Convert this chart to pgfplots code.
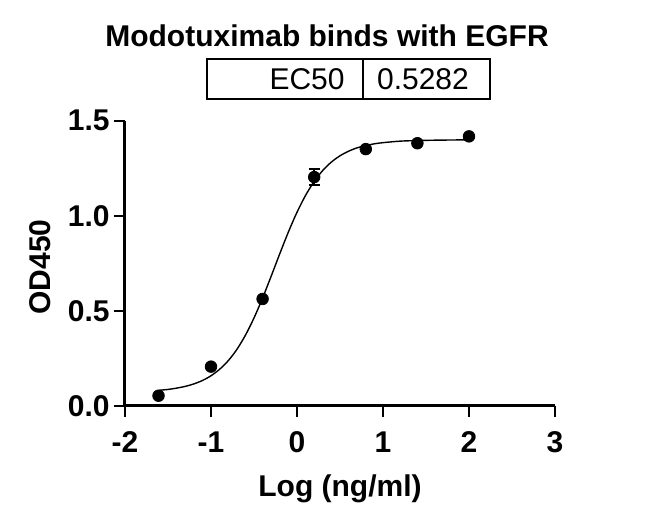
\documentclass[border=0pt]{standalone}
\usepackage{fontspec}
\setmainfont{Liberation Sans}
\usepackage{pgfplots}
\pgfplotsset{compat=1.18}

\newcommand{\chartfont}{\fontsize{15}{18}\selectfont}

\begin{document}
\begin{tikzpicture}
\begin{axis}[%
  scale only axis,
  width=215pt, height=142.6pt,
  xmin=-2, xmax=3, ymin=0, ymax=1.5,
  axis lines=left,
  axis line style={line width=1.5pt, -},
  tick align=outside,
  major tick length=5.5pt,
  tick style={line width=1.25pt, black},
  xtick={-2,-1,0,1,2,3},
  xticklabels={-2,-1,0,1,2,3},
  ytick={0,0.5,1,1.5},
  yticklabels={0.0,0.5,1.0,1.5},
  tick label style={font=\bfseries\chartfont},
  xticklabel style={anchor=base, inner sep=0pt, yshift=-17.7pt},
  yticklabel style={anchor=east, inner sep=0pt, xshift=-2pt},
  clip=false,
]
% fitted curve
\addplot[black, line width=0.7pt, smooth] coordinates {
  (-1.6, 0.083) (-1.5, 0.087) (-1.4, 0.094) (-1.3, 0.103)
  (-1.2, 0.116) (-1.1, 0.134) (-1.0, 0.159) (-0.9, 0.193)
  (-0.8, 0.238) (-0.7, 0.297) (-0.6, 0.372) (-0.5, 0.463)
  (-0.4, 0.568) (-0.3, 0.683) (-0.2, 0.801) (-0.1, 0.915)
  (0.0, 1.019) (0.1, 1.108) (0.2, 1.181) (0.3, 1.239)
  (0.4, 1.283) (0.5, 1.316) (0.6, 1.340) (0.7, 1.358)
  (0.8, 1.370) (0.9, 1.379) (1.0, 1.385) (1.2, 1.393)
  (1.4, 1.396) (1.6, 1.398) (1.8, 1.399) (2.0, 1.400)
};
% measured points
\addplot[black, only marks, mark=*, mark size=2.9pt,
  error bars/.cd, y dir=both, y explicit,
  error bar style={line width=0.8pt},
  error mark options={rotate=90, mark size=2.75pt, line width=0.8pt}]
  table[x=x, y=y, y error=e] {
  x      y      e
  -1.61  0.054  0
  -1.00  0.207  0
  -0.40  0.563  0
   0.20  1.204  0.043
   0.80  1.351  0
   1.40  1.382  0
   2.00  1.418  0
};
\end{axis}
% title and EC50 box
\node[anchor=base, inner sep=0pt, font=\bfseries\chartfont] at (101pt,179.7pt) {Modotuximab binds with EGFR};
\draw[line width=1pt] (41.15pt,153.35pt) rectangle (182.5pt,173.35pt);
\draw[line width=1pt] (119.15pt,153.35pt) -- (119.15pt,173.35pt);
\node[anchor=base east, inner sep=0pt, font=\chartfont] at (110pt,158pt) {EC50};
\node[anchor=base west, inner sep=0pt, font=\chartfont] at (125.85pt,158pt) {0.5282};
% axis labels
\node[rotate=90, inner sep=0pt, font=\bfseries\chartfont] at (-42.5pt,69.5pt) {OD450};
\node[anchor=base, inner sep=0pt, font=\bfseries\chartfont] at (107.5pt,-45.3pt) {Log (ng/ml)};
\path (-62.5pt,-59pt) rectangle (262.5pt,203pt);
\end{tikzpicture}
\end{document}
